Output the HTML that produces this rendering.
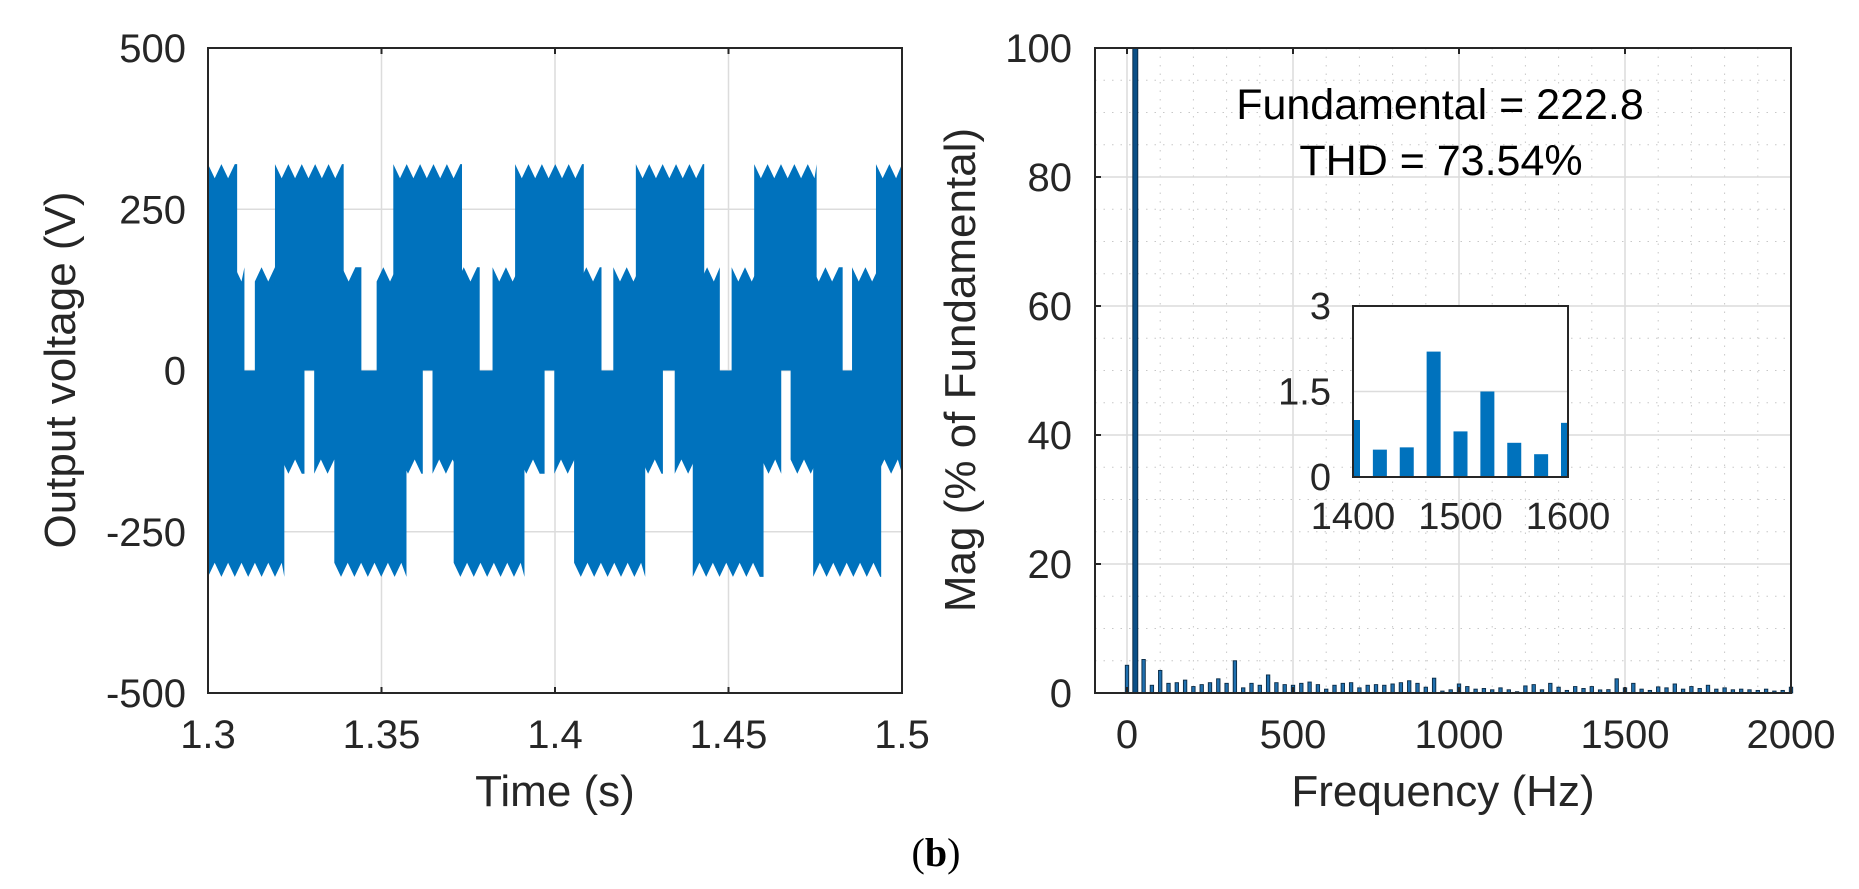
<!DOCTYPE html>
<html><head><meta charset="utf-8"><style>
html,body{margin:0;padding:0;background:#fff;}
svg{display:block;font-family:"Liberation Sans",sans-serif;}
</style></head><body>
<svg id="fig" width="1859" height="889" viewBox="0 0 1859 889" xmlns="http://www.w3.org/2000/svg">
<g id="left"></g>
<g id="right"></g>
<text x="936" y="866" font-family="Liberation Serif, serif" font-size="40" text-anchor="middle">(<tspan font-weight="bold">b</tspan>)</text>
</svg>
<script>
// ---- Left chart data ----
const vTicks = [-500, -250, 0, 250, 500];
const tTicks = [1.3, 1.35, 1.4, 1.45, 1.5];
const tTickLabels = ["1.3", "1.35", "1.4", "1.45", "1.5"];
const levelPeak = 320, levelMid = 160;
const posHighStart = [1.3, 1.3193, 1.3534, 1.3885, 1.4233, 1.4574, 1.4925];
const posHighEnd   = [1.3084, 1.3391, 1.3732, 1.4083, 1.4430, 1.4754, 1.5];
const posLowStart  = [1.3, 1.3135, 1.3486, 1.3820, 1.4168, 1.4509, 1.4856];
const posLowEnd    = [1.3105, 1.3442, 1.3783, 1.4134, 1.4475, 1.4829, 1.5];
const negHighStart = [1.3, 1.3364, 1.3708, 1.4055, 1.4397, 1.4744];
const negHighEnd   = [1.3220, 1.3572, 1.3912, 1.4260, 1.4601, 1.4940];
const negLowStart  = [1.3, 1.3306, 1.3647, 1.3998, 1.4345, 1.4679];
const negLowEnd    = [1.3278, 1.3619, 1.3970, 1.4311, 1.4652, 1.5];

// ---- Right chart data ----
const magTicks = [0, 20, 40, 60, 80, 100];
const freqTicks = [0, 500, 1000, 1500, 2000];
const binStep = 25;
const magValues = [4.3,100,5.2,1.2,3.5,1.5,1.6,2.0,1.0,1.3,1.6,2.2,1.5,5.0,0.8,1.5,1.2,2.8,1.6,1.3,
 1.2,1.5,1.7,1.3,0.6,1.2,1.5,1.6,0.8,1.2,1.3,1.2,1.4,1.6,1.9,1.5,0.9,2.3,0.3,0.5,
 1.4,1.0,0.6,0.7,0.5,0.8,0.5,0.2,1.1,1.3,0.5,1.5,0.9,0.4,1.0,0.7,1.0,0.48,0.52,2.2,
 0.8,1.5,0.6,0.4,0.95,0.8,1.4,0.6,1.0,0.7,1.2,0.6,0.8,0.5,0.6,0.5,0.4,0.6,0.3,0.4,0.9];
const insetTicksY = [0, 1.5, 3];
const insetTicksX = [1400, 1500, 1600];
const annotation1 = "Fundamental = 222.8";
const annotation2 = "THD = 73.54%";

const NS = "http://www.w3.org/2000/svg";
function mk(parent, tag, attrs, text){
  const e = document.createElementNS(NS, tag);
  for (const k in attrs) e.setAttribute(k, attrs[k]);
  if (text !== undefined) e.textContent = text;
  parent.appendChild(e); return e;
}

// ===== Left chart =====
const L = document.getElementById('left');
const lx0 = 208, lx1 = 902, ly0 = 48, ly1 = 693;
const xT = t => lx0 + (t - 1.3) / 0.2 * (lx1 - lx0);
const yV = v => ly1 - (v + 500) / 1000 * (ly1 - ly0);

mk(L,'rect',{x:lx0,y:ly0,width:lx1-lx0,height:ly1-ly0,fill:'#fff'});
tTicks.forEach((t,i)=>{
  const gl = mk(L,'line',{x1:xT(t),x2:xT(t),y1:ly0,y2:ly1,stroke:'#dcdcdc','stroke-width':1.5});
  
  
  const tl = mk(L,'text',{x:xT(t),y:748,'font-size':40,'text-anchor':'middle',fill:'#262626'},tTickLabels[i]);
  
  
});
vTicks.forEach(v=>{
  const gl = mk(L,'line',{x1:lx0,x2:lx1,y1:yV(v),y2:yV(v),stroke:'#dcdcdc','stroke-width':1.5});
  
  
  const tl = mk(L,'text',{x:186,y:yV(v)+14,'font-size':40,'text-anchor':'end',fill:'#262626'},String(v));
  
  
});

// scalloped band drawing; inner edge extended by overlap to cover neighbouring band ripples
function band(starts, ends, lo, hi, sign, overlap){
  const per = 13.4;
  for (let i = 0; i < starts.length; i++){
    const xa = xT(starts[i]), xb = xT(ends[i]);
    const edge = sign > 0 ? hi : lo;
    const inner = sign > 0 ? lo - overlap : hi + overlap;
    let d = `M${xa},${yV(inner)} L${xa},${yV(edge)}`;
    for (let x = xa; x <= xb; x += per/2){
      const ph = Math.round((x - lx0) / (per/2)) % 2;
      const v = edge - sign * (ph ? 22 : 0);
      d += ` L${Math.min(x,xb)},${yV(v)}`;
    }
    d += ` L${xb},${yV(edge)} L${xb},${yV(inner)} Z`;
    const p = mk(L,'path',{d:d,fill:'#0072BD'});
    
    
  }
}
band(posLowStart, posLowEnd, 0, levelMid, 1, 0);
band(negLowStart, negLowEnd, -levelMid, 0, -1, 0);
band(posHighStart, posHighEnd, levelMid, levelPeak, 1, 30);
band(negHighStart, negHighEnd, -levelPeak, -levelMid, -1, 30);

mk(L,'rect',{x:lx0,y:ly0,width:lx1-lx0,height:ly1-ly0,fill:'none',stroke:'#262626','stroke-width':2});
tTicks.forEach(t=>{ mk(L,'line',{x1:xT(t),x2:xT(t),y1:ly1,y2:ly1-6,stroke:'#262626','stroke-width':2}); mk(L,'line',{x1:xT(t),x2:xT(t),y1:ly0,y2:ly0+6,stroke:'#262626','stroke-width':2}); });
const lxl = mk(L,'text',{x:555,y:806,'font-size':44,'text-anchor':'middle',fill:'#262626'},'Time (s)');


const lyl = mk(L,'text',{x:0,y:0,'font-size':44,'text-anchor':'middle',fill:'#262626',transform:'translate(75,370) rotate(-90)'},'Output voltage (V)');



// ===== Right chart =====
const R = document.getElementById('right');
const rx0 = 1095, rx1 = 1791, ry0 = 48, ry1 = 693;
const f0px = 1127, pxPerHz = (rx1 - f0px) / 2000;
const xF = f => f0px + f * pxPerHz;
const yM = m => ry1 - m / 100 * (ry1 - ry0);

mk(R,'rect',{x:rx0,y:ry0,width:rx1-rx0,height:ry1-ry0,fill:'#fff'});
for (let f = -100; f <= 2000; f += 100){
  if (f % 500 !== 0 && xF(f) > rx0){
    const m = mk(R,'line',{x1:xF(f),x2:xF(f),y1:ry0,y2:ry1,stroke:'#c8c8c8','stroke-width':1,'stroke-dasharray':'1.5,7'});
    
    
  }
}
for (let m = 5; m < 100; m += 5){
  if (m % 20 !== 0){
    const l = mk(R,'line',{x1:rx0,x2:rx1,y1:yM(m),y2:yM(m),stroke:'#c8c8c8','stroke-width':1,'stroke-dasharray':'1.5,7'});
    
    
  }
}
freqTicks.forEach(f=>{
  const gl = mk(R,'line',{x1:xF(f),x2:xF(f),y1:ry0,y2:ry1,stroke:'#dcdcdc','stroke-width':1.5});
  
  
  const tl = mk(R,'text',{x:xF(f),y:748,'font-size':40,'text-anchor':'middle',fill:'#262626'},String(f));
  
  
});
magTicks.forEach(m=>{
  const gl = mk(R,'line',{x1:rx0,x2:rx1,y1:yM(m),y2:yM(m),stroke:'#dcdcdc','stroke-width':1.5});
  
  
  const tl = mk(R,'text',{x:1072,y:yM(m)+14,'font-size':40,'text-anchor':'end',fill:'#262626'},String(m));
  
  
});
magValues.forEach((v,k)=>{
  const f = k * binStep;
  const top = Math.max(yM(v), ry0);
  const w = k === 1 ? 5 : 3.4;
  const b = mk(R,'rect',{x:xF(f)-w/2,y:top,width:w,height:ry1-top,fill:k===1?'#0b4f86':'#1f6fae',stroke:'#0a2a44','stroke-width':0.9});
  
  
});
mk(R,'rect',{x:rx0,y:ry0,width:rx1-rx0,height:ry1-ry0,fill:'none',stroke:'#262626','stroke-width':2});
freqTicks.forEach(f=>{ mk(R,'line',{x1:xF(f),x2:xF(f),y1:ry1,y2:ry1-6,stroke:'#262626','stroke-width':2}); mk(R,'line',{x1:xF(f),x2:xF(f),y1:ry0,y2:ry0+6,stroke:'#262626','stroke-width':2}); });
magTicks.forEach(m=>{ mk(R,'line',{x1:rx0,x2:rx0+6,y1:yM(m),y2:yM(m),stroke:'#262626','stroke-width':2}); });

const a1 = mk(R,'text',{x:1440,y:119,'font-size':43,'text-anchor':'middle',fill:'#000'},annotation1);


const a2 = mk(R,'text',{x:1441,y:175,'font-size':43,'text-anchor':'middle',fill:'#000'},annotation2);



const rxl = mk(R,'text',{x:1443,y:806,'font-size':44,'text-anchor':'middle',fill:'#262626'},'Frequency (Hz)');


const ryl = mk(R,'text',{x:0,y:0,'font-size':44,'text-anchor':'middle',fill:'#262626',transform:'translate(975,370) rotate(-90)'},'Mag (% of Fundamental)');



// ===== Inset =====
const I = mk(R,'g',{});


const ix0 = 1353, ix1 = 1568, iy0 = 306, iy1 = 477;
const xI = f => ix0 + (f - 1400) / 200 * (ix1 - ix0);
const yI = m => iy1 - m / 3 * (iy1 - iy0);
mk(I,'rect',{x:ix0,y:iy0,width:ix1-ix0,height:iy1-iy0,fill:'#fff'});
insetTicksY.forEach(m=>{
  const gl = mk(I,'line',{x1:ix0,x2:ix1,y1:yI(m),y2:yI(m),stroke:'#dcdcdc','stroke-width':1.5});
  
  
  const tl = mk(I,'text',{x:1331,y:yI(m)+13,'font-size':38,'text-anchor':'end',fill:'#262626'},String(m));
  
  
});
insetTicksX.forEach(f=>{
  const tl = mk(I,'text',{x:xI(f),y:529,'font-size':38,'text-anchor':'middle',fill:'#262626'},String(f));
  
  
});
const clipDef = mk(I,'clipPath',{id:'insetClip'});
mk(clipDef,'rect',{x:ix0,y:iy0,width:ix1-ix0,height:iy1-iy0});
const IB = mk(I,'g',{'clip-path':'url(#insetClip)'});
magValues.forEach((v,k)=>{
  const f = k * binStep;
  if (f < 1400 || f > 1600) return;
  const w = 14;
  const b = mk(IB,'rect',{x:xI(f)-w/2,y:yI(v),width:w,height:iy1-yI(v),fill:'#0072BD'});
  
  
});
mk(I,'rect',{x:ix0,y:iy0,width:ix1-ix0,height:iy1-iy0,fill:'none',stroke:'#262626','stroke-width':2});
</script>
</body></html>
